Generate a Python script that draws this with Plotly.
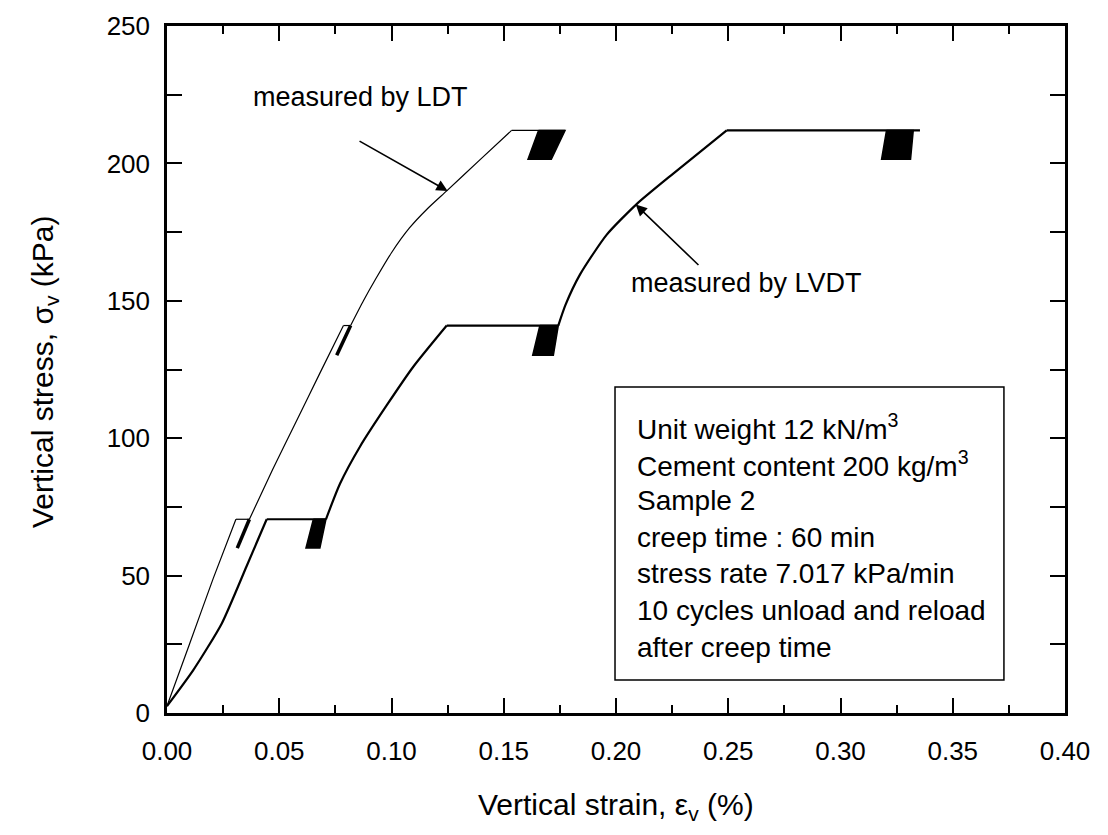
import plotly.graph_objects as go

# ---------------- data ----------------
# LDT (thin line): loading path with creep plateaus
ldt_strain = [0.0, 0.010, 0.0206, 0.0307, 0.0367, 0.047, 0.0575, 0.068, 0.0786, 0.0818,
              0.0875, 0.093, 0.100, 0.108, 0.116, 0.1246, 0.139, 0.1535, 0.1773]
ldt_stress = [2.5, 25.0, 49.0, 70.5, 70.5, 88.5, 106.0, 123.5, 141.0, 141.0,
              150.0, 158.0, 167.5, 176.5, 183.5, 190.0, 201.0, 212.0, 212.0]
# LDT unload/reload cycles at 70 and 141 kPa (narrow loops)
ldt_loop1_strain = [0.0367, 0.0313]
ldt_loop1_stress = [70.5, 60.0]
ldt_loop2_strain = [0.0818, 0.0756]
ldt_loop2_stress = [141.0, 130.2]
# LDT cycles at 212 kPa (dense block)
ldt_block_strain = [0.1655, 0.1773, 0.1712, 0.1608, 0.1655]
ldt_block_stress = [212.0, 212.0, 201.5, 201.5, 212.0]

# LVDT (thicker line)
lvdt_strain = [0.0, 0.0117, 0.0244, 0.0355, 0.0444, 0.0708, 0.0771, 0.086, 0.0979, 0.1097,
               0.1246, 0.1743, 0.1775, 0.184, 0.1958, 0.2092, 0.2255, 0.2493, 0.3354]
lvdt_stress = [2.5, 15.6, 32.6, 53.5, 70.5, 70.5, 83.5, 97.0, 112.0, 126.0,
               141.0, 141.0, 148.5, 159.6, 174.0, 185.2, 196.3, 212.0, 212.0]
lvdt_block1_strain = [0.0652, 0.0708, 0.0681, 0.0619, 0.0652]
lvdt_block1_stress = [70.5, 70.5, 60.0, 60.0, 70.5]
lvdt_block2_strain = [0.1661, 0.1743, 0.1721, 0.1629, 0.1661]
lvdt_block2_stress = [141.0, 141.0, 130.2, 130.2, 141.0]
lvdt_block3_strain = [0.3205, 0.3324, 0.3312, 0.3183, 0.3205]
lvdt_block3_stress = [212.0, 212.0, 201.5, 201.5, 212.0]

x_tickvals = [0.00, 0.05, 0.10, 0.15, 0.20, 0.25, 0.30, 0.35, 0.40]
y_tickvals = [0, 50, 100, 150, 200, 250]

box_lines = [
    "Unit weight 12 kN/m<sup>3</sup>",
    "Cement content 200 kg/m<sup>3</sup>",
    "Sample 2",
    "creep time : 60 min",
    "stress rate 7.017 kPa/min",
    "10 cycles unload and reload",
    "after creep time",
]

FONT = "Liberation Sans, Arial, Helvetica, sans-serif"

fig = go.Figure()


def add_line(xs, ys, w, shape="linear"):
    fig.add_trace(go.Scatter(x=xs, y=ys, mode="lines",
                             line=dict(color="black", width=w, shape=shape,
                                       smoothing=0.6 if shape == "spline" else None),
                             hoverinfo="skip", showlegend=False))


def add_path(xs, ys, w):
    """Draw a path: loading parts as smooth curves, creep plateaus as straight lines."""
    i = 0
    n = len(xs)
    while i < n - 1:
        flat = ys[i + 1] == ys[i]
        j = i + 1
        while j < n - 1 and (ys[j + 1] == ys[j]) == flat:
            j += 1
        add_line(xs[i:j + 1], ys[i:j + 1], w, "linear" if flat or j - i < 2 else "spline")
        i = j


def add_block(xs, ys):
    fig.add_trace(go.Scatter(x=xs, y=ys, mode="lines", fill="toself",
                             fillcolor="black", line=dict(color="black", width=1.5),
                             hoverinfo="skip", showlegend=False))


add_path(ldt_strain, ldt_stress, 1.2)
add_line(ldt_loop1_strain, ldt_loop1_stress, 3.5)
add_line(ldt_loop2_strain, ldt_loop2_stress, 3.5)
add_block(ldt_block_strain, ldt_block_stress)

add_path(lvdt_strain, lvdt_stress, 2.2)
add_block(lvdt_block1_strain, lvdt_block1_stress)
add_block(lvdt_block2_strain, lvdt_block2_stress)
add_block(lvdt_block3_strain, lvdt_block3_stress)

# text box
fig.add_shape(type="rect", xref="paper", yref="paper",
              x0=0.4989, x1=0.932, y0=0.048, y1=0.4745,
              line=dict(color="black", width=1.5), fillcolor="white", layer="below")

line_y_px = [427, 464, 500, 537, 573, 610, 647]
for txt, ypx in zip(box_lines, line_y_px):
    fig.add_annotation(xref="paper", yref="paper",
                       x=(635 - 167) / 898, y=(713 - ypx) / 687,
                       xanchor="left", yanchor="middle", showarrow=False,
                       text=txt, font=dict(family=FONT, size=28, color="black"))

# labels and arrows
fig.add_annotation(x=0.086, y=224, xref="x", yref="y", text="measured by LDT",
                   showarrow=False, font=dict(family=FONT, size=27, color="black"))
fig.add_annotation(x=0.258, y=156.5, xref="x", yref="y", text="measured by LVDT",
                   showarrow=False, font=dict(family=FONT, size=27, color="black"))
fig.add_annotation(x=0.1250, y=190.0, ax=0.0851, ay=208.4, xref="x", yref="y",
                   axref="x", ayref="y", text="", showarrow=True, arrowhead=2,
                   arrowsize=1.4, arrowwidth=1.6, arrowcolor="black", standoff=0)
fig.add_annotation(x=0.2088, y=185.0, ax=0.2374, ay=162.5, xref="x", yref="y",
                   axref="x", ayref="y", text="", showarrow=True, arrowhead=2,
                   arrowsize=1.4, arrowwidth=1.6, arrowcolor="black", standoff=0)

# axis titles
fig.add_annotation(xref="paper", yref="paper", x=(616 - 167) / 898, y=(713 - 806) / 687,
                   text="Vertical strain, ε<sub>v</sub> (%)", showarrow=False,
                   xanchor="center", yanchor="middle",
                   font=dict(family=FONT, size=30, color="black"))
fig.add_annotation(xref="paper", yref="paper", x=(44 - 167) / 898, y=(713 - 372) / 687,
                   text="Vertical stress, σ<sub>v</sub> (kPa)", showarrow=False,
                   textangle=-90, xanchor="center", yanchor="middle",
                   font=dict(family=FONT, size=30, color="black"))

fig.update_xaxes(range=[0, 0.4], tickvals=x_tickvals, tickformat=".2f",
                 ticks="inside", ticklen=15, tickwidth=2, tickcolor="black",
                 minor=dict(dtick=0.025, ticks="inside", ticklen=8, tickwidth=2, tickcolor="black"),
                 showline=True, linewidth=2.5, linecolor="black", mirror="allticks",
                 showgrid=False, zeroline=False, ticklabelstandoff=13,
                 tickfont=dict(family=FONT, size=26, color="black"))
fig.update_yaxes(range=[0, 250], tickvals=y_tickvals,
                 ticks="inside", ticklen=15, tickwidth=2, tickcolor="black",
                 minor=dict(dtick=25, ticks="inside", ticklen=15, tickwidth=2, tickcolor="black"),
                 showline=True, linewidth=2.5, linecolor="black", mirror="allticks",
                 showgrid=False, zeroline=False, ticklabelstandoff=9,
                 tickfont=dict(family=FONT, size=26, color="black"))

fig.update_layout(width=1108, height=835, autosize=False,
                  margin=dict(l=167, r=43, t=26, b=122),
                  plot_bgcolor="white", paper_bgcolor="white",
                  showlegend=False)

fig.write_html("out.html", config={"displayModeBar": False})
